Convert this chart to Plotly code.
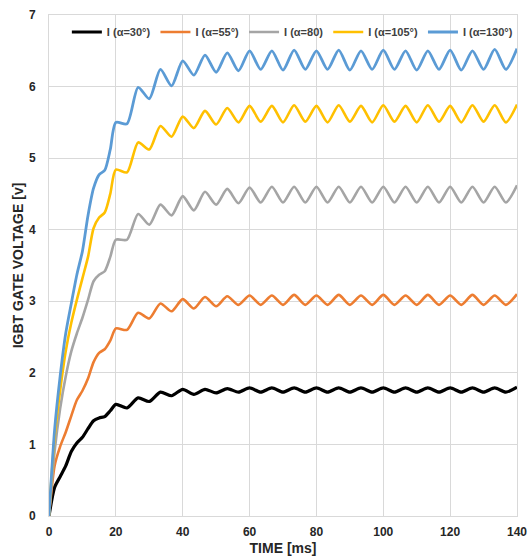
import plotly.graph_objects as go

# time axis [ms]
time_ms = [0, 1.67, 3.33, 5, 6.67, 8.33, 10, 11.67, 13.33, 15, 16.67, 18.33, 20,
           23.33, 26.67, 30, 33.33, 36.67, 40, 43.33, 46.67, 50,
           53.33, 56.67, 60, 63.33, 66.67, 70, 73.33, 76.67, 80, 83.33, 86.67, 90,
           93.33, 96.67, 100, 103.33, 106.67, 110, 113.33, 116.67, 120, 123.33,
           126.67, 130, 133.33, 136.67, 140]

v_30 = [0, 0.4, 0.55, 0.7, 0.9, 1.02, 1.1, 1.22, 1.33, 1.37, 1.39, 1.47, 1.56,
        1.51, 1.65, 1.6, 1.73, 1.68, 1.77, 1.7, 1.77, 1.72,
        1.78, 1.73, 1.79, 1.73, 1.79, 1.73, 1.79, 1.73, 1.79, 1.73, 1.79, 1.73, 1.79, 1.73,
        1.79, 1.73, 1.79, 1.73, 1.79, 1.73, 1.79, 1.73, 1.79, 1.73, 1.79, 1.73, 1.8]

v_55 = [0, 0.7, 0.97, 1.17, 1.4, 1.62, 1.75, 1.92, 2.15, 2.28, 2.33, 2.45, 2.62,
        2.6, 2.84, 2.76, 2.97, 2.86, 3.03, 2.9, 3.06, 2.93,
        3.07, 2.95, 3.08, 2.95, 3.08, 2.95, 3.09, 2.95, 3.08, 2.95, 3.09, 2.95, 3.08, 2.95,
        3.09, 2.95, 3.08, 2.95, 3.09, 2.95, 3.08, 2.95, 3.09, 2.95, 3.08, 2.95, 3.1]

v_80 = [0, 0.9, 1.5, 1.95, 2.3, 2.55, 2.77, 3.02, 3.28, 3.37, 3.42, 3.62, 3.86,
        3.86, 4.22, 4.07, 4.35, 4.2, 4.47, 4.27, 4.53, 4.35,
        4.57, 4.37, 4.59, 4.38, 4.6, 4.38, 4.6, 4.38, 4.6, 4.38, 4.6, 4.38, 4.6, 4.38,
        4.6, 4.38, 4.6, 4.38, 4.6, 4.38, 4.6, 4.38, 4.6, 4.38, 4.6, 4.38, 4.62]

v_105 = [0, 1.1, 1.75, 2.3, 2.7, 3.02, 3.32, 3.62, 4.02, 4.17, 4.24, 4.5, 4.84,
         4.8, 5.22, 5.12, 5.45, 5.3, 5.58, 5.42, 5.66, 5.47,
         5.7, 5.5, 5.73, 5.51, 5.73, 5.5, 5.74, 5.51, 5.73, 5.5, 5.74, 5.51, 5.73, 5.5,
         5.74, 5.51, 5.73, 5.5, 5.74, 5.51, 5.73, 5.5, 5.74, 5.51, 5.74, 5.5, 5.75]

v_130 = [0, 1.2, 1.95, 2.55, 2.97, 3.37, 3.7, 4.2, 4.58, 4.77, 4.83, 5.12, 5.5,
         5.48, 5.99, 5.83, 6.24, 6.01, 6.36, 6.16, 6.44, 6.2,
         6.47, 6.22, 6.5, 6.24, 6.5, 6.23, 6.51, 6.24, 6.5, 6.24, 6.51, 6.23, 6.5, 6.24,
         6.51, 6.24, 6.5, 6.23, 6.5, 6.24, 6.51, 6.23, 6.5, 6.24, 6.52, 6.24, 6.53]

series_names = ["I (α=30°)", "I (α=55°)", "I (α=80)", "I (α=105°)", "I (α=130°)"]
series_values = [v_30, v_55, v_80, v_105, v_130]
series_colors = ["#000000", "#ED7D31", "#A5A5A5", "#FFC000", "#5B9BD5"]
series_widths = [3.2, 2.6, 2.6, 2.6, 2.8]

x_ticks = [0, 20, 40, 60, 80, 100, 120, 140]
y_ticks = [0, 1, 2, 3, 4, 5, 6, 7]

FONT = "Liberation Sans"

fig = go.Figure()
for name, vals, col, w in zip(series_names, series_values, series_colors, series_widths):
    fig.add_trace(go.Scatter(
        x=time_ms, y=vals, mode="lines", name=name,
        line=dict(color=col, width=w, shape="spline", smoothing=0.7),
    ))

fig.update_layout(
    width=532, height=560,
    margin=dict(l=49, r=15, t=15, b=44),
    paper_bgcolor="white", plot_bgcolor="white",
    font=dict(family=FONT, color="#262626"),
    showlegend=True,
    legend=dict(
        orientation="h", x=0.52, xanchor="center", y=0.995, yanchor="top",
        font=dict(family=FONT, size=11, color="#404040", weight="bold"),
        bgcolor="rgba(0,0,0,0)", itemwidth=30, tracegroupgap=0,
    ),
)

fig.update_xaxes(
    range=[0, 140], tickvals=x_ticks, ticktext=[str(v) for v in x_ticks],
    showgrid=True, gridcolor="#D9D9D9", gridwidth=1,
    showline=True, linecolor="#D9D9D9", mirror=True, zeroline=False,
    ticks="", ticklabelstandoff=5, automargin=False,
    tickfont=dict(family=FONT, size=12, color="#262626", weight="bold"),
    title=dict(text="TIME [ms]", standoff=4,
               font=dict(family=FONT, size=14, color="#262626", weight="bold")),
)
fig.update_yaxes(
    range=[0, 7], tickvals=y_ticks, ticktext=[str(v) for v in y_ticks],
    showgrid=True, gridcolor="#D9D9D9", gridwidth=1,
    showline=True, linecolor="#D9D9D9", mirror=True, zeroline=False,
    ticks="", ticklabelstandoff=10, automargin=False,
    tickfont=dict(family=FONT, size=12, color="#262626", weight="bold"),
    title=dict(text="IGBT GATE VOLTAGE [v]", standoff=2,
               font=dict(family=FONT, size=14, color="#262626", weight="bold")),
)

fig.write_html("out.html")
